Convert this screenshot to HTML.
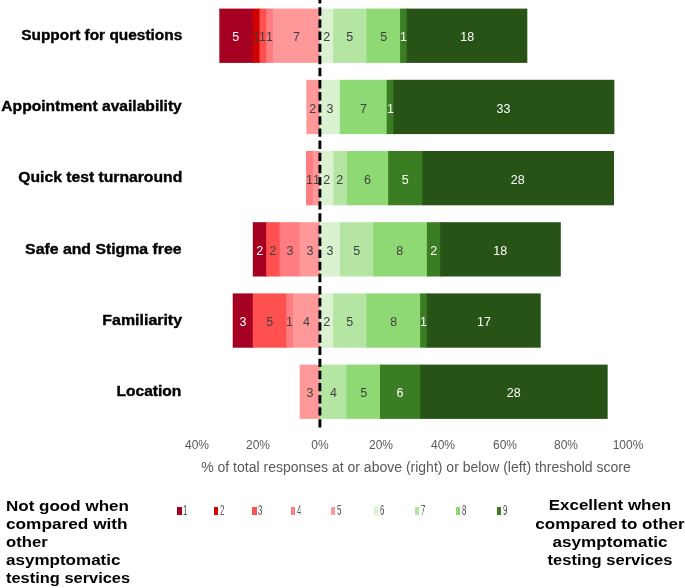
<!DOCTYPE html><html><head><meta charset="utf-8"><style>
*{margin:0;padding:0;box-sizing:border-box}
html,body{width:685px;height:588px;background:#fff;overflow:hidden;position:relative;font-family:"Liberation Sans",sans-serif}
.seg{position:absolute}
.lab{position:absolute;will-change:transform;text-align:center;font-size:12.5px;white-space:nowrap}
.rl{position:absolute;will-change:transform;right:503.2px;font-weight:bold;font-size:14px;-webkit-text-stroke:0.35px #000;line-height:15px;white-space:nowrap;color:#000;transform-origin:100% 50%}
.dash{position:absolute;left:0;top:0}
.tick{position:absolute;will-change:transform;top:438px;width:60px;text-align:center;font-size:12px;line-height:14px;color:#595959}
.atitle{position:absolute;will-change:transform;left:0;width:832px;top:459.2px;text-align:center;font-size:14px;line-height:17px;color:#595959;white-space:nowrap}
.lsq{position:absolute;top:506.6px;width:4.4px;height:8.3px}
.ltx{position:absolute;will-change:transform;top:503px;font-size:14.5px;line-height:14px;color:#595959;transform:scaleX(0.53);transform-origin:0 0}
.bt{position:absolute;will-change:transform;font-weight:bold;font-size:15px;line-height:18px;color:#000;white-space:nowrap}
</style></head><body>
<svg class="dash" width="685" height="588" viewBox="0 0 685 588"><rect x="219.32" y="8.60" width="34.48" height="54.3" fill="#A50021"/><rect x="252.79" y="8.60" width="7.70" height="54.3" fill="#D00000"/><rect x="259.49" y="8.60" width="7.70" height="54.3" fill="#FF5050"/><rect x="266.18" y="8.60" width="7.70" height="54.3" fill="#FF7C80"/><rect x="272.88" y="8.60" width="47.47" height="54.3" fill="#FF9999"/><rect x="319.75" y="8.60" width="14.39" height="54.3" fill="#DAF2D0"/><rect x="333.14" y="8.60" width="34.48" height="54.3" fill="#B4E5A2"/><rect x="366.62" y="8.60" width="34.48" height="54.3" fill="#8ED973"/><rect x="400.10" y="8.60" width="7.70" height="54.3" fill="#3A7D22"/><rect x="406.79" y="8.60" width="120.52" height="54.3" fill="#275317"/><rect x="306.36" y="79.80" width="13.99" height="54.3" fill="#FF9999"/><rect x="319.75" y="79.80" width="21.09" height="54.3" fill="#DAF2D0"/><rect x="339.84" y="79.80" width="47.87" height="54.3" fill="#8ED973"/><rect x="386.71" y="79.80" width="7.70" height="54.3" fill="#3A7D22"/><rect x="393.40" y="79.80" width="220.96" height="54.3" fill="#275317"/><rect x="306.06" y="151.00" width="7.84" height="54.3" fill="#FF7C80"/><rect x="312.91" y="151.00" width="7.44" height="54.3" fill="#FF9999"/><rect x="319.75" y="151.00" width="14.69" height="54.3" fill="#DAF2D0"/><rect x="333.44" y="151.00" width="14.69" height="54.3" fill="#B4E5A2"/><rect x="347.13" y="151.00" width="42.07" height="54.3" fill="#8ED973"/><rect x="388.19" y="151.00" width="35.22" height="54.3" fill="#3A7D22"/><rect x="422.42" y="151.00" width="191.64" height="54.3" fill="#275317"/><rect x="252.79" y="222.20" width="14.39" height="54.3" fill="#A50021"/><rect x="266.18" y="222.20" width="14.39" height="54.3" fill="#FF5050"/><rect x="279.58" y="222.20" width="21.09" height="54.3" fill="#FF7C80"/><rect x="299.66" y="222.20" width="20.69" height="54.3" fill="#FF9999"/><rect x="319.75" y="222.20" width="21.09" height="54.3" fill="#DAF2D0"/><rect x="339.84" y="222.20" width="34.48" height="54.3" fill="#B4E5A2"/><rect x="373.32" y="222.20" width="54.57" height="54.3" fill="#8ED973"/><rect x="426.88" y="222.20" width="14.39" height="54.3" fill="#3A7D22"/><rect x="440.27" y="222.20" width="120.52" height="54.3" fill="#275317"/><rect x="232.71" y="293.40" width="21.09" height="54.3" fill="#A50021"/><rect x="252.79" y="293.40" width="34.48" height="54.3" fill="#FF5050"/><rect x="286.27" y="293.40" width="7.70" height="54.3" fill="#FF7C80"/><rect x="292.97" y="293.40" width="27.38" height="54.3" fill="#FF9999"/><rect x="319.75" y="293.40" width="14.39" height="54.3" fill="#DAF2D0"/><rect x="333.14" y="293.40" width="34.48" height="54.3" fill="#B4E5A2"/><rect x="366.62" y="293.40" width="54.57" height="54.3" fill="#8ED973"/><rect x="420.18" y="293.40" width="7.70" height="54.3" fill="#3A7D22"/><rect x="426.88" y="293.40" width="113.83" height="54.3" fill="#275317"/><rect x="299.66" y="364.60" width="20.69" height="54.3" fill="#FF9999"/><rect x="319.75" y="364.60" width="27.78" height="54.3" fill="#B4E5A2"/><rect x="346.53" y="364.60" width="34.48" height="54.3" fill="#8ED973"/><rect x="380.01" y="364.60" width="41.17" height="54.3" fill="#3A7D22"/><rect x="420.18" y="364.60" width="187.48" height="54.3" fill="#275317"/></svg>
<div class="lab" style="left:219.32px;top:10.30px;width:33.48px;height:54.3px;line-height:54.3px;color:#fff">5</div>
<div class="lab" style="left:252.79px;top:10.30px;width:6.70px;height:54.3px;line-height:54.3px;color:#404040">1</div>
<div class="lab" style="left:259.49px;top:10.30px;width:6.70px;height:54.3px;line-height:54.3px;color:#404040">1</div>
<div class="lab" style="left:266.18px;top:10.30px;width:6.70px;height:54.3px;line-height:54.3px;color:#404040">1</div>
<div class="lab" style="left:272.88px;top:10.30px;width:46.87px;height:54.3px;line-height:54.3px;color:#404040">7</div>
<div class="lab" style="left:319.75px;top:10.30px;width:13.39px;height:54.3px;line-height:54.3px;color:#404040">2</div>
<div class="lab" style="left:333.14px;top:10.30px;width:33.48px;height:54.3px;line-height:54.3px;color:#404040">5</div>
<div class="lab" style="left:366.62px;top:10.30px;width:33.48px;height:54.3px;line-height:54.3px;color:#404040">5</div>
<div class="lab" style="left:400.10px;top:10.30px;width:6.70px;height:54.3px;line-height:54.3px;color:#fff">1</div>
<div class="lab" style="left:406.79px;top:10.30px;width:120.52px;height:54.3px;line-height:54.3px;color:#fff">18</div>
<div class="lab" style="left:306.36px;top:81.50px;width:13.39px;height:54.3px;line-height:54.3px;color:#404040">2</div>
<div class="lab" style="left:319.75px;top:81.50px;width:20.09px;height:54.3px;line-height:54.3px;color:#404040">3</div>
<div class="lab" style="left:339.84px;top:81.50px;width:46.87px;height:54.3px;line-height:54.3px;color:#404040">7</div>
<div class="lab" style="left:386.71px;top:81.50px;width:6.70px;height:54.3px;line-height:54.3px;color:#fff">1</div>
<div class="lab" style="left:393.40px;top:81.50px;width:220.96px;height:54.3px;line-height:54.3px;color:#fff">33</div>
<div class="lab" style="left:306.06px;top:152.70px;width:6.84px;height:54.3px;line-height:54.3px;color:#404040">1</div>
<div class="lab" style="left:312.91px;top:152.70px;width:6.84px;height:54.3px;line-height:54.3px;color:#404040">1</div>
<div class="lab" style="left:319.75px;top:152.70px;width:13.69px;height:54.3px;line-height:54.3px;color:#404040">2</div>
<div class="lab" style="left:333.44px;top:152.70px;width:13.69px;height:54.3px;line-height:54.3px;color:#404040">2</div>
<div class="lab" style="left:347.13px;top:152.70px;width:41.07px;height:54.3px;line-height:54.3px;color:#404040">6</div>
<div class="lab" style="left:388.19px;top:152.70px;width:34.22px;height:54.3px;line-height:54.3px;color:#fff">5</div>
<div class="lab" style="left:422.42px;top:152.70px;width:191.64px;height:54.3px;line-height:54.3px;color:#fff">28</div>
<div class="lab" style="left:252.79px;top:223.90px;width:13.39px;height:54.3px;line-height:54.3px;color:#fff">2</div>
<div class="lab" style="left:266.18px;top:223.90px;width:13.39px;height:54.3px;line-height:54.3px;color:#404040">2</div>
<div class="lab" style="left:279.58px;top:223.90px;width:20.09px;height:54.3px;line-height:54.3px;color:#404040">3</div>
<div class="lab" style="left:299.66px;top:223.90px;width:20.09px;height:54.3px;line-height:54.3px;color:#404040">3</div>
<div class="lab" style="left:319.75px;top:223.90px;width:20.09px;height:54.3px;line-height:54.3px;color:#404040">3</div>
<div class="lab" style="left:339.84px;top:223.90px;width:33.48px;height:54.3px;line-height:54.3px;color:#404040">5</div>
<div class="lab" style="left:373.32px;top:223.90px;width:53.57px;height:54.3px;line-height:54.3px;color:#404040">8</div>
<div class="lab" style="left:426.88px;top:223.90px;width:13.39px;height:54.3px;line-height:54.3px;color:#fff">2</div>
<div class="lab" style="left:440.27px;top:223.90px;width:120.52px;height:54.3px;line-height:54.3px;color:#fff">18</div>
<div class="lab" style="left:232.71px;top:295.10px;width:20.09px;height:54.3px;line-height:54.3px;color:#fff">3</div>
<div class="lab" style="left:252.79px;top:295.10px;width:33.48px;height:54.3px;line-height:54.3px;color:#404040">5</div>
<div class="lab" style="left:286.27px;top:295.10px;width:6.70px;height:54.3px;line-height:54.3px;color:#404040">1</div>
<div class="lab" style="left:292.97px;top:295.10px;width:26.78px;height:54.3px;line-height:54.3px;color:#404040">4</div>
<div class="lab" style="left:319.75px;top:295.10px;width:13.39px;height:54.3px;line-height:54.3px;color:#404040">2</div>
<div class="lab" style="left:333.14px;top:295.10px;width:33.48px;height:54.3px;line-height:54.3px;color:#404040">5</div>
<div class="lab" style="left:366.62px;top:295.10px;width:53.57px;height:54.3px;line-height:54.3px;color:#404040">8</div>
<div class="lab" style="left:420.18px;top:295.10px;width:6.70px;height:54.3px;line-height:54.3px;color:#fff">1</div>
<div class="lab" style="left:426.88px;top:295.10px;width:113.83px;height:54.3px;line-height:54.3px;color:#fff">17</div>
<div class="lab" style="left:299.66px;top:366.30px;width:20.09px;height:54.3px;line-height:54.3px;color:#404040">3</div>
<div class="lab" style="left:319.75px;top:366.30px;width:26.78px;height:54.3px;line-height:54.3px;color:#404040">4</div>
<div class="lab" style="left:346.53px;top:366.30px;width:33.48px;height:54.3px;line-height:54.3px;color:#404040">5</div>
<div class="lab" style="left:380.01px;top:366.30px;width:40.17px;height:54.3px;line-height:54.3px;color:#fff">6</div>
<div class="lab" style="left:420.18px;top:366.30px;width:187.48px;height:54.3px;line-height:54.3px;color:#fff">28</div>
<div class="rl" style="top:27.85px;transform:scaleX(1.1014)">Support for questions</div>
<div class="rl" style="top:99.10px;transform:scaleX(1.1154)">Appointment availability</div>
<div class="rl" style="top:170.45px;transform:scaleX(1.1214)">Quick test turnaround</div>
<div class="rl" style="top:241.50px;transform:scaleX(1.1292)">Safe and Stigma free</div>
<div class="rl" style="top:312.60px;transform:scaleX(1.1377)">Familiarity</div>
<div class="rl" style="top:383.85px;transform:scaleX(1.1123)">Location</div>
<svg class="dash" width="685" height="588" viewBox="0 0 685 588"><line x1="319.9" y1="0" x2="319.9" y2="427.6" stroke="#000" stroke-width="2.9" stroke-dasharray="8.4 3.718" stroke-dashoffset="4.84"/></svg>
<div class="tick" style="left:166.55px">40%</div>
<div class="tick" style="left:228.15px">20%</div>
<div class="tick" style="left:289.75px">0%</div>
<div class="tick" style="left:351.35px">20%</div>
<div class="tick" style="left:412.95px">40%</div>
<div class="tick" style="left:474.55px">60%</div>
<div class="tick" style="left:536.15px">80%</div>
<div class="tick" style="left:597.75px">100%</div>
<div class="atitle">% of total responses at or above (right) or below (left) threshold score</div>
<div class="lsq" style="left:177.4px;background:#A50021"></div><div class="ltx" style="left:183.4px">1</div>
<div class="lsq" style="left:214.0px;background:#D00000"></div><div class="ltx" style="left:220.0px">2</div>
<div class="lsq" style="left:252.2px;background:#FF5050"></div><div class="ltx" style="left:258.2px">3</div>
<div class="lsq" style="left:290.6px;background:#FF7C80"></div><div class="ltx" style="left:296.6px">4</div>
<div class="lsq" style="left:330.8px;background:#FF9999"></div><div class="ltx" style="left:336.8px">5</div>
<div class="lsq" style="left:373.9px;background:#DAF2D0"></div><div class="ltx" style="left:379.9px">6</div>
<div class="lsq" style="left:414.6px;background:#B4E5A2"></div><div class="ltx" style="left:420.6px">7</div>
<div class="lsq" style="left:455.9px;background:#8ED973"></div><div class="ltx" style="left:461.9px">8</div>
<div class="lsq" style="left:496.6px;background:#3A7D22"></div><div class="ltx" style="left:502.6px">9</div>
<div class="bt" style="left:5.97px;top:496.80px;transform:scaleX(1.1346);transform-origin:0 0">Not good when</div>
<div class="bt" style="left:5.95px;top:514.80px;transform:scaleX(1.1490);transform-origin:0 0">compared with</div>
<div class="bt" style="left:5.99px;top:533.00px;transform:scaleX(1.1108);transform-origin:0 0">other</div>
<div class="bt" style="left:5.96px;top:551.20px;transform:scaleX(1.1350);transform-origin:0 0">asymptomatic</div>
<div class="bt" style="left:6.01px;top:569.40px;transform:scaleX(1.0947);transform-origin:0 0">testing services</div>
<div class="bt" style="left:510.30px;width:200px;text-align:center;top:496.30px;transform:scaleX(1.1299);transform-origin:50% 0">Excellent when</div>
<div class="bt" style="left:510.30px;width:200px;text-align:center;top:514.60px;transform:scaleX(1.1336);transform-origin:50% 0">compared to other</div>
<div class="bt" style="left:510.30px;width:200px;text-align:center;top:532.80px;transform:scaleX(1.1410);transform-origin:50% 0">asymptomatic</div>
<div class="bt" style="left:510.30px;width:200px;text-align:center;top:551.10px;transform:scaleX(1.1018);transform-origin:50% 0">testing services</div>
</body></html>
